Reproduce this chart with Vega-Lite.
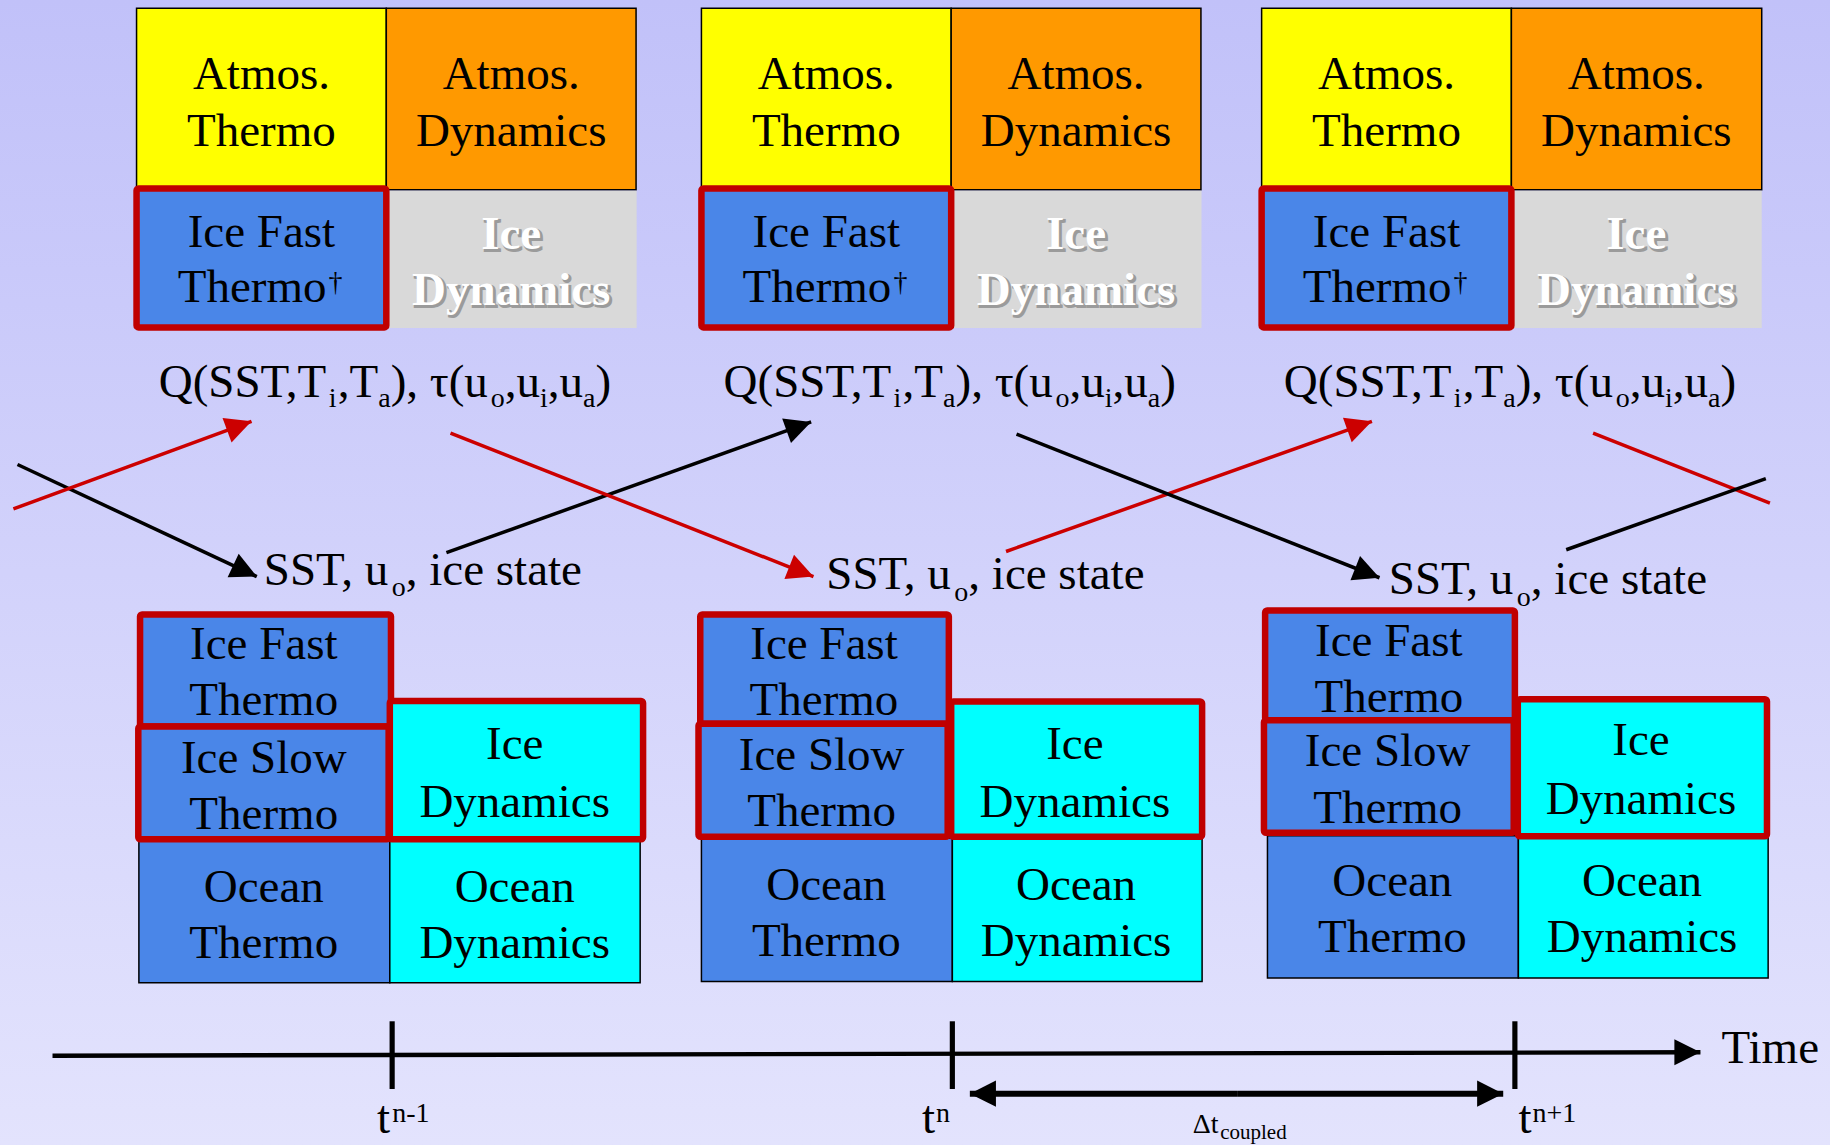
{
  "$schema": "https://vega.github.io/schema/vega-lite/v6.json",
  "width": 1830,
  "height": 1145,
  "padding": 0,
  "autosize": {"type": "none"},
  "background": "#e2e2fc",
  "config": {"view": {"stroke": null}, "text": {"font": "Liberation Serif"}},
  "datasets": {
    "frame": [{"x": 0, "y": 0, "x2": 1568, "y2": 981}],
    "boxes": [
      {"comp": "Atmos. Thermo", "x": 117, "y": 7, "x2": 331, "y2": 162.5},
      {"comp": "Atmos. Dynamics", "x": 331, "y": 7, "x2": 545, "y2": 162.5},
      {"comp": "Ice Dynamics (idle)", "x": 333, "y": 163.5, "x2": 545.5, "y2": 281},
      {"comp": "Ice Fast Thermo (atm)", "x": 117, "y": 161.5, "x2": 331, "y2": 280.5},
      {"comp": "Atmos. Thermo", "x": 601, "y": 7, "x2": 815, "y2": 162.5},
      {"comp": "Atmos. Dynamics", "x": 815, "y": 7, "x2": 1029, "y2": 162.5},
      {"comp": "Ice Dynamics (idle)", "x": 817, "y": 163.5, "x2": 1029.5, "y2": 281},
      {"comp": "Ice Fast Thermo (atm)", "x": 601, "y": 161.5, "x2": 815, "y2": 280.5},
      {"comp": "Atmos. Thermo", "x": 1081, "y": 7, "x2": 1295, "y2": 162.5},
      {"comp": "Atmos. Dynamics", "x": 1295, "y": 7, "x2": 1509.5, "y2": 162.5},
      {"comp": "Ice Dynamics (idle)", "x": 1297, "y": 163.5, "x2": 1509.5, "y2": 281},
      {"comp": "Ice Fast Thermo (atm)", "x": 1081, "y": 161.5, "x2": 1295, "y2": 280.5},
      {"comp": "Ocean Thermo", "x": 119, "y": 719, "x2": 334, "y2": 842},
      {"comp": "Ocean Dynamics", "x": 334, "y": 719, "x2": 548.5, "y2": 842},
      {"comp": "Ice Fast Thermo", "x": 120, "y": 526.5, "x2": 335, "y2": 622.5},
      {"comp": "Ice Slow Thermo", "x": 118.5, "y": 622.5, "x2": 333, "y2": 719},
      {"comp": "Ice Dynamics", "x": 334, "y": 600.5, "x2": 551, "y2": 719},
      {"comp": "Ocean Thermo", "x": 601, "y": 718, "x2": 816, "y2": 841},
      {"comp": "Ocean Dynamics", "x": 816, "y": 718, "x2": 1030, "y2": 841},
      {"comp": "Ice Fast Thermo", "x": 600, "y": 526.5, "x2": 813, "y2": 620},
      {"comp": "Ice Slow Thermo", "x": 598.5, "y": 620, "x2": 812, "y2": 717},
      {"comp": "Ice Dynamics", "x": 815, "y": 601, "x2": 1030, "y2": 717},
      {"comp": "Ocean Thermo", "x": 1086, "y": 716, "x2": 1301, "y2": 838},
      {"comp": "Ocean Dynamics", "x": 1301, "y": 716, "x2": 1515, "y2": 838},
      {"comp": "Ice Fast Thermo", "x": 1084, "y": 523, "x2": 1298, "y2": 617},
      {"comp": "Ice Slow Thermo", "x": 1083, "y": 617, "x2": 1297, "y2": 713.5},
      {"comp": "Ice Dynamics", "x": 1300.5, "y": 599, "x2": 1514, "y2": 716.5}
    ],
    "links": [
      {"x": 15, "y": 398, "x2": 220, "y2": 494, "tone": "black", "kind": "flow", "head": true},
      {"x": 11.5, "y": 436, "x2": 215.5, "y2": 361, "tone": "red", "kind": "flow", "head": true},
      {"x": 382.5, "y": 473.5, "x2": 695, "y2": 361.5, "tone": "black", "kind": "flow", "head": true},
      {"x": 386, "y": 371, "x2": 697, "y2": 494, "tone": "red", "kind": "flow", "head": true},
      {"x": 862, "y": 472.5, "x2": 1175.5, "y2": 361, "tone": "red", "kind": "flow", "head": true},
      {"x": 871, "y": 372, "x2": 1182, "y2": 495, "tone": "black", "kind": "flow", "head": true},
      {"x": 1365, "y": 371, "x2": 1516.5, "y2": 431, "tone": "red", "kind": "flow", "head": false},
      {"x": 1342, "y": 471, "x2": 1513, "y2": 410, "tone": "black", "kind": "flow", "head": false},
      {"x": 45, "y": 904.5, "x2": 1457, "y2": 901.5, "tone": "black", "kind": "axis", "head": true},
      {"x": 336, "y": 875, "x2": 336, "y2": 933, "tone": "black", "kind": "tick", "head": false},
      {"x": 816, "y": 875, "x2": 816, "y2": 933, "tone": "black", "kind": "tick", "head": false},
      {"x": 1298, "y": 875, "x2": 1298, "y2": 933, "tone": "black", "kind": "tick", "head": false},
      {"x": 1060, "y": 937, "x2": 831, "y2": 937, "tone": "black", "kind": "span", "head": true},
      {"x": 1060, "y": 937, "x2": 1288, "y2": 937, "tone": "black", "kind": "span", "head": true}
    ],
    "labels": [
      {"x": 224, "y": 76, "text": "Atmos.", "role": "label"},
      {"x": 224, "y": 125, "text": "Thermo", "role": "label"},
      {"x": 438, "y": 76, "text": "Atmos.", "role": "label"},
      {"x": 438, "y": 125, "text": "Dynamics", "role": "label"},
      {"x": 224, "y": 212, "text": "Ice Fast", "role": "label"},
      {"x": 216, "y": 259, "text": "Thermo", "role": "label"},
      {"x": 281.5, "y": 249, "text": "†", "role": "small"},
      {"x": 438, "y": 213, "text": "Ice", "role": "inactive"},
      {"x": 438, "y": 261, "text": "Dynamics", "role": "inactive"},
      {"x": 708, "y": 76, "text": "Atmos.", "role": "label"},
      {"x": 708, "y": 125, "text": "Thermo", "role": "label"},
      {"x": 922, "y": 76, "text": "Atmos.", "role": "label"},
      {"x": 922, "y": 125, "text": "Dynamics", "role": "label"},
      {"x": 708, "y": 212, "text": "Ice Fast", "role": "label"},
      {"x": 700, "y": 259, "text": "Thermo", "role": "label"},
      {"x": 765.5, "y": 249, "text": "†", "role": "small"},
      {"x": 922, "y": 213, "text": "Ice", "role": "inactive"},
      {"x": 922, "y": 261, "text": "Dynamics", "role": "inactive"},
      {"x": 1188, "y": 76, "text": "Atmos.", "role": "label"},
      {"x": 1188, "y": 125, "text": "Thermo", "role": "label"},
      {"x": 1402, "y": 76, "text": "Atmos.", "role": "label"},
      {"x": 1402, "y": 125, "text": "Dynamics", "role": "label"},
      {"x": 1188, "y": 212, "text": "Ice Fast", "role": "label"},
      {"x": 1180, "y": 259, "text": "Thermo", "role": "label"},
      {"x": 1245.5, "y": 249, "text": "†", "role": "small"},
      {"x": 1402, "y": 213, "text": "Ice", "role": "inactive"},
      {"x": 1402, "y": 261, "text": "Dynamics", "role": "inactive"},

      {"x": 226, "y": 565, "text": "Ice Fast", "role": "label"},
      {"x": 226, "y": 613, "text": "Thermo", "role": "label"},
      {"x": 226, "y": 662, "text": "Ice Slow", "role": "label"},
      {"x": 226, "y": 710, "text": "Thermo", "role": "label"},
      {"x": 441, "y": 650, "text": "Ice", "role": "label"},
      {"x": 441, "y": 700, "text": "Dynamics", "role": "label"},
      {"x": 226, "y": 773, "text": "Ocean", "role": "label"},
      {"x": 226, "y": 821, "text": "Thermo", "role": "label"},
      {"x": 441, "y": 773, "text": "Ocean", "role": "label"},
      {"x": 441, "y": 821, "text": "Dynamics", "role": "label"},

      {"x": 706, "y": 565, "text": "Ice Fast", "role": "label"},
      {"x": 706, "y": 613, "text": "Thermo", "role": "label"},
      {"x": 704, "y": 660, "text": "Ice Slow", "role": "label"},
      {"x": 704, "y": 708, "text": "Thermo", "role": "label"},
      {"x": 921, "y": 650, "text": "Ice", "role": "label"},
      {"x": 921, "y": 700, "text": "Dynamics", "role": "label"},
      {"x": 708, "y": 771, "text": "Ocean", "role": "label"},
      {"x": 708, "y": 819, "text": "Thermo", "role": "label"},
      {"x": 922, "y": 771, "text": "Ocean", "role": "label"},
      {"x": 922, "y": 819, "text": "Dynamics", "role": "label"},

      {"x": 1190, "y": 562, "text": "Ice Fast", "role": "label"},
      {"x": 1190, "y": 610, "text": "Thermo", "role": "label"},
      {"x": 1189, "y": 656, "text": "Ice Slow", "role": "label"},
      {"x": 1189, "y": 705, "text": "Thermo", "role": "label"},
      {"x": 1406, "y": 647, "text": "Ice", "role": "label"},
      {"x": 1406, "y": 697, "text": "Dynamics", "role": "label"},
      {"x": 1193, "y": 768, "text": "Ocean", "role": "label"},
      {"x": 1193, "y": 816, "text": "Thermo", "role": "label"},
      {"x": 1407, "y": 768, "text": "Ocean", "role": "label"},
      {"x": 1407, "y": 816, "text": "Dynamics", "role": "label"},

      {"x": 136, "y": 340, "text": "Q(SST,T", "role": "inline"},
      {"x": 281.6, "y": 349, "text": "i", "role": "small"},
      {"x": 289.3, "y": 340, "text": ",T", "role": "inline"},
      {"x": 324, "y": 349, "text": "a", "role": "small"},
      {"x": 334.7, "y": 340, "text": "), τ(u", "role": "inline"},
      {"x": 420.4, "y": 349, "text": "o", "role": "small"},
      {"x": 432.4, "y": 340, "text": ",u", "role": "inline"},
      {"x": 462.6, "y": 349, "text": "i", "role": "small"},
      {"x": 469.3, "y": 340, "text": ",u", "role": "inline"},
      {"x": 499.5, "y": 349, "text": "a", "role": "small"},
      {"x": 510.2, "y": 340, "text": ")", "role": "inline"},

      {"x": 620, "y": 340, "text": "Q(SST,T", "role": "inline"},
      {"x": 765.6, "y": 349, "text": "i", "role": "small"},
      {"x": 773.3, "y": 340, "text": ",T", "role": "inline"},
      {"x": 808, "y": 349, "text": "a", "role": "small"},
      {"x": 818.7, "y": 340, "text": "), τ(u", "role": "inline"},
      {"x": 904.4, "y": 349, "text": "o", "role": "small"},
      {"x": 916.4, "y": 340, "text": ",u", "role": "inline"},
      {"x": 946.6, "y": 349, "text": "i", "role": "small"},
      {"x": 953.3, "y": 340, "text": ",u", "role": "inline"},
      {"x": 983.5, "y": 349, "text": "a", "role": "small"},
      {"x": 994.2, "y": 340, "text": ")", "role": "inline"},

      {"x": 1100, "y": 340, "text": "Q(SST,T", "role": "inline"},
      {"x": 1245.6, "y": 349, "text": "i", "role": "small"},
      {"x": 1253.3, "y": 340, "text": ",T", "role": "inline"},
      {"x": 1288, "y": 349, "text": "a", "role": "small"},
      {"x": 1298.7, "y": 340, "text": "), τ(u", "role": "inline"},
      {"x": 1384.4, "y": 349, "text": "o", "role": "small"},
      {"x": 1396.4, "y": 340, "text": ",u", "role": "inline"},
      {"x": 1426.6, "y": 349, "text": "i", "role": "small"},
      {"x": 1433.3, "y": 340, "text": ",u", "role": "inline"},
      {"x": 1463.5, "y": 349, "text": "a", "role": "small"},
      {"x": 1474.2, "y": 340, "text": ")", "role": "inline"},

      {"x": 226, "y": 501, "text": "SST, u", "role": "inline"},
      {"x": 335.7, "y": 511, "text": "o", "role": "small"},
      {"x": 347.7, "y": 501, "text": ", ice state", "role": "inline"},
      {"x": 708, "y": 505, "text": "SST, u", "role": "inline"},
      {"x": 817.7, "y": 515, "text": "o", "role": "small"},
      {"x": 829.7, "y": 505, "text": ", ice state", "role": "inline"},
      {"x": 1190, "y": 509, "text": "SST, u", "role": "inline"},
      {"x": 1299.7, "y": 519, "text": "o", "role": "small"},
      {"x": 1311.7, "y": 509, "text": ", ice state", "role": "inline"},

      {"x": 323, "y": 971, "text": "t", "role": "inline"},
      {"x": 336, "y": 961, "text": "n-1", "role": "small"},
      {"x": 790, "y": 971, "text": "t", "role": "inline"},
      {"x": 802, "y": 961, "text": "n", "role": "small"},
      {"x": 1301, "y": 971, "text": "t", "role": "inline"},
      {"x": 1313, "y": 961, "text": "n+1", "role": "small"},
      {"x": 1022, "y": 971, "text": "Δt", "role": "small"},
      {"x": 1045.5, "y": 976, "text": "coupled", "role": "tiny"},
      {"x": 1475, "y": 911, "text": "Time", "role": "inline"}
    ]
  },
  "layer": [
    {
      "data": {"name": "frame"},
      "mark": {"type": "rect", "fill": {"gradient": "linear", "x1": 0, "y1": 0, "x2": 0, "y2": 1, "stops": [{"offset": 0, "color": "#c1c1f9"}, {"offset": 1, "color": "#e3e3fd"}]}},
      "encoding": {
        "x": {"field": "x", "type": "quantitative", "scale": {"domain": [0, 1568], "nice": false, "zero": false}, "axis": null},
        "x2": {"field": "x2"},
        "y": {"field": "y", "type": "quantitative", "scale": {"domain": [0, 981], "nice": false, "zero": false, "reverse": true}, "axis": null},
        "y2": {"field": "y2"}
      }
    },
    {
      "data": {"name": "boxes"},
      "transform": [{"filter": {"field": "comp", "oneOf": ["Atmos. Thermo", "Atmos. Dynamics", "Ocean Thermo", "Ocean Dynamics", "Ice Dynamics (idle)"]}}],
      "mark": {"type": "rect", "stroke": "#000000", "strokeWidth": 1.5},
      "encoding": {
        "x": {"field": "x", "type": "quantitative", "scale": {"domain": [0, 1568], "nice": false, "zero": false}, "axis": null},
        "x2": {"field": "x2"},
        "y": {"field": "y", "type": "quantitative", "scale": {"domain": [0, 981], "nice": false, "zero": false, "reverse": true}, "axis": null},
        "y2": {"field": "y2"},
        "fill": {"field": "comp", "type": "nominal", "legend": null, "scale": {"domain": ["Atmos. Thermo", "Atmos. Dynamics", "Ice Fast Thermo (atm)", "Ice Dynamics (idle)", "Ice Fast Thermo", "Ice Slow Thermo", "Ice Dynamics", "Ocean Thermo", "Ocean Dynamics"], "range": ["#ffff00", "#ff9900", "#4a86e8", "#d9d9d9", "#4a86e8", "#4a86e8", "#00ffff", "#4a86e8", "#00ffff"]}},
        "strokeOpacity": {"condition": {"test": "datum.comp === 'Ice Dynamics (idle)'", "value": 0}, "value": 1}
      }
    },
    {
      "data": {"name": "boxes"},
      "transform": [{"filter": {"field": "comp", "oneOf": ["Ice Fast Thermo (atm)", "Ice Fast Thermo", "Ice Slow Thermo", "Ice Dynamics"]}}],
      "mark": {"type": "rect", "stroke": "#c00000", "strokeWidth": 6.5, "cornerRadius": 2},
      "encoding": {
        "x": {"field": "x", "type": "quantitative", "scale": {"domain": [0, 1568], "nice": false, "zero": false}, "axis": null},
        "x2": {"field": "x2"},
        "y": {"field": "y", "type": "quantitative", "scale": {"domain": [0, 981], "nice": false, "zero": false, "reverse": true}, "axis": null},
        "y2": {"field": "y2"},
        "fill": {"field": "comp", "type": "nominal", "legend": null, "scale": {"domain": ["Atmos. Thermo", "Atmos. Dynamics", "Ice Fast Thermo (atm)", "Ice Dynamics (idle)", "Ice Fast Thermo", "Ice Slow Thermo", "Ice Dynamics", "Ocean Thermo", "Ocean Dynamics"], "range": ["#ffff00", "#ff9900", "#4a86e8", "#d9d9d9", "#4a86e8", "#4a86e8", "#00ffff", "#4a86e8", "#00ffff"]}}
      }
    },
    {
      "data": {"name": "links"},
      "mark": {"type": "rule", "strokeCap": "butt"},
      "encoding": {
        "x": {"field": "x", "type": "quantitative", "scale": {"domain": [0, 1568], "nice": false, "zero": false}, "axis": null},
        "x2": {"field": "x2"},
        "y": {"field": "y", "type": "quantitative", "scale": {"domain": [0, 981], "nice": false, "zero": false, "reverse": true}, "axis": null},
        "y2": {"field": "y2"},
        "color": {"field": "tone", "type": "nominal", "legend": null, "scale": {"domain": ["red", "black"], "range": ["#cc0000", "#000000"]}},
        "strokeWidth": {"field": "kind", "type": "ordinal", "legend": null, "scale": {"domain": ["flow", "axis", "tick", "span"], "range": [3.5, 6, 2, 3.5]}}
      }
    },
    {
      "data": {"name": "links"},
      "transform": [
        {"filter": "datum.head"},
        {"calculate": "atan2(datum.x2 - datum.x, datum.y - datum.y2) * 180 / PI", "as": "heading"}
      ],
      "mark": {"type": "point", "shape": "M0,0L-1,2L1,2Z", "filled": true, "opacity": 1, "size": 680, "strokeWidth": 0},
      "encoding": {
        "x": {"field": "x2", "type": "quantitative", "scale": {"domain": [0, 1568], "nice": false, "zero": false}, "axis": null},
        "y": {"field": "y2", "type": "quantitative", "scale": {"domain": [0, 981], "nice": false, "zero": false, "reverse": true}, "axis": null},
        "angle": {"field": "heading", "type": "quantitative", "scale": null},
        "color": {"field": "tone", "type": "nominal", "legend": null, "scale": {"domain": ["red", "black"], "range": ["#cc0000", "#000000"]}}
      }
    },
    {
      "data": {"name": "labels"},
      "transform": [{"filter": "datum.role === 'label'"}],
      "mark": {"type": "text", "align": "center", "baseline": "alphabetic", "fontSize": 47, "color": "#000000"},
      "encoding": {
        "x": {"field": "x", "type": "quantitative", "scale": {"domain": [0, 1568], "nice": false, "zero": false}, "axis": null},
        "y": {"field": "y", "type": "quantitative", "scale": {"domain": [0, 981], "nice": false, "zero": false, "reverse": true}, "axis": null},
        "text": {"field": "text"}
      }
    },
    {
      "data": {"name": "labels"},
      "transform": [{"filter": "datum.role === 'inactive'"}],
      "mark": {"type": "text", "align": "center", "baseline": "alphabetic", "fontSize": 47, "fontWeight": "bold", "color": "#8c8c8c", "stroke": "#8c8c8c", "strokeWidth": 2, "dx": 2, "dy": 2, "opacity": 0.8},
      "encoding": {
        "x": {"field": "x", "type": "quantitative", "scale": {"domain": [0, 1568], "nice": false, "zero": false}, "axis": null},
        "y": {"field": "y", "type": "quantitative", "scale": {"domain": [0, 981], "nice": false, "zero": false, "reverse": true}, "axis": null},
        "text": {"field": "text"}
      }
    },
    {
      "data": {"name": "labels"},
      "transform": [{"filter": "datum.role === 'inactive'"}],
      "mark": {"type": "text", "align": "center", "baseline": "alphabetic", "fontSize": 47, "fontWeight": "bold", "color": "#ffffff"},
      "encoding": {
        "x": {"field": "x", "type": "quantitative", "scale": {"domain": [0, 1568], "nice": false, "zero": false}, "axis": null},
        "y": {"field": "y", "type": "quantitative", "scale": {"domain": [0, 981], "nice": false, "zero": false, "reverse": true}, "axis": null},
        "text": {"field": "text"}
      }
    },
    {
      "data": {"name": "labels"},
      "transform": [{"filter": "datum.role === 'inline'"}],
      "mark": {"type": "text", "align": "left", "baseline": "alphabetic", "fontSize": 47, "color": "#000000"},
      "encoding": {
        "x": {"field": "x", "type": "quantitative", "scale": {"domain": [0, 1568], "nice": false, "zero": false}, "axis": null},
        "y": {"field": "y", "type": "quantitative", "scale": {"domain": [0, 981], "nice": false, "zero": false, "reverse": true}, "axis": null},
        "text": {"field": "text"}
      }
    },
    {
      "data": {"name": "labels"},
      "transform": [{"filter": "datum.role === 'small'"}],
      "mark": {"type": "text", "align": "left", "baseline": "alphabetic", "fontSize": 28, "color": "#000000"},
      "encoding": {
        "x": {"field": "x", "type": "quantitative", "scale": {"domain": [0, 1568], "nice": false, "zero": false}, "axis": null},
        "y": {"field": "y", "type": "quantitative", "scale": {"domain": [0, 981], "nice": false, "zero": false, "reverse": true}, "axis": null},
        "text": {"field": "text"}
      }
    },
    {
      "data": {"name": "labels"},
      "transform": [{"filter": "datum.role === 'tiny'"}],
      "mark": {"type": "text", "align": "left", "baseline": "alphabetic", "fontSize": 21, "color": "#000000"},
      "encoding": {
        "x": {"field": "x", "type": "quantitative", "scale": {"domain": [0, 1568], "nice": false, "zero": false}, "axis": null},
        "y": {"field": "y", "type": "quantitative", "scale": {"domain": [0, 981], "nice": false, "zero": false, "reverse": true}, "axis": null},
        "text": {"field": "text"}
      }
    }
  ]
}
